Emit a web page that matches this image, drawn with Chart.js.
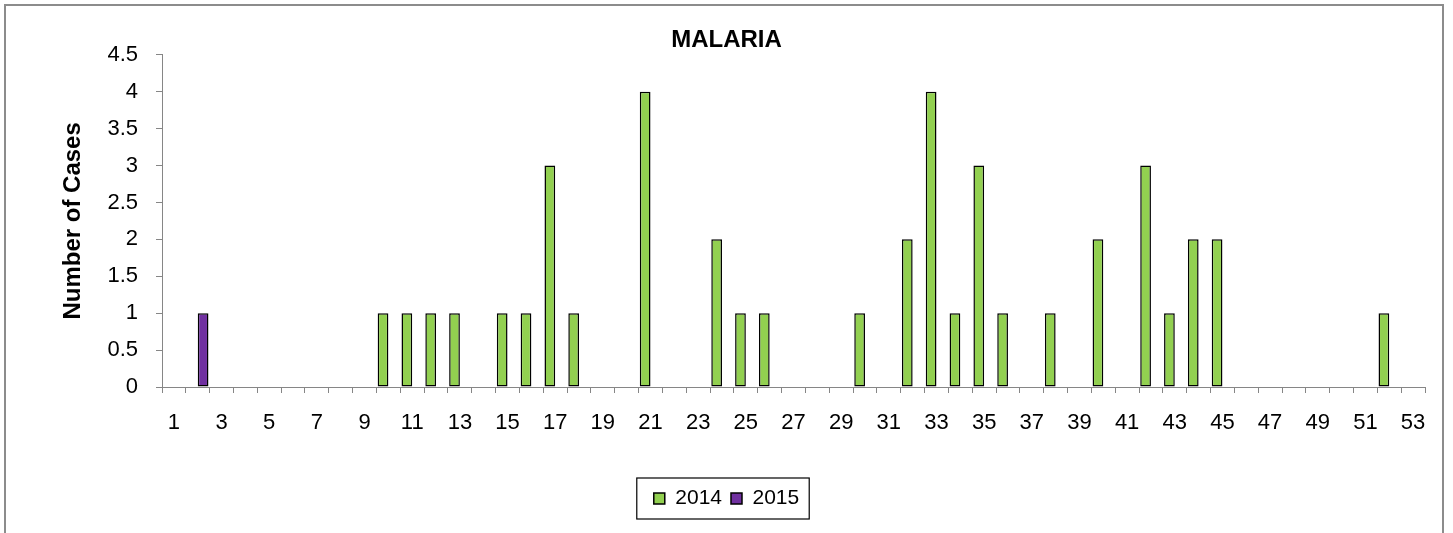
<!DOCTYPE html>
<html>
<head>
<meta charset="utf-8">
<script src="https://cdn.jsdelivr.net/npm/chart.js@4/dist/chart.umd.min.js"></script>
<style>
	html, body { margin: 0; padding: 0; background: #fff; }
	#wrap { width: 1453px; height: 533px; }
</style>
</head>
<body>
<div id="wrap"><canvas id="chart" width="1453" height="533"></canvas></div>
<script>
// epi weeks 1..53
const weeks = [
	'1', '2', '3', '4', '5', '6', '7', '8', '9', '10',
	'11', '12', '13', '14', '15', '16', '17', '18', '19', '20',
	'21', '22', '23', '24', '25', '26', '27', '28', '29', '30',
	'31', '32', '33', '34', '35', '36', '37', '38', '39', '40',
	'41', '42', '43', '44', '45', '46', '47', '48', '49', '50',
	'51', '52', '53'
];
const cases2014 = [
	0, 0, 0, 0, 0, 0, 0, 0, 0, 1,
	1, 1, 1, 0, 1, 1, 3, 1, 0, 0,
	4, 0, 0, 2, 1, 1, 0, 0, 0, 1,
	0, 2, 4, 1, 3, 1, 0, 1, 0, 2,
	0, 3, 1, 2, 2, 0, 0, 0, 0, 0,
	0, 1, 0
];
const cases2015 = [
	0, 1, 0, 0, 0, 0, 0, 0, 0, 0,
	0, 0, 0, 0, 0, 0, 0, 0, 0, 0,
	0, 0, 0, 0, 0, 0, 0, 0, 0, 0,
	0, 0, 0, 0, 0, 0, 0, 0, 0, 0,
	0, 0, 0, 0, 0, 0, 0, 0, 0, 0,
	0, 0, 0
];
const yTicks = [0, 0.5, 1, 1.5, 2, 2.5, 3, 3.5, 4, 4.5];

(function () {
	'use strict';

	const axisGrey = '#868686';
	Chart.defaults.font.family = "'Liberation Sans', Arial, sans-serif";
	Chart.defaults.color = '#000';

	// outer frame + legend border
	const framePlugin = {
		id: 'frame',
		beforeDraw(chart) {
			const ctx = chart.ctx;
			ctx.save();
			ctx.fillStyle = '#fff';
			ctx.fillRect(0, 0, chart.width, chart.height);
			ctx.strokeStyle = '#8c8c8c';
			ctx.lineWidth = 2;
			ctx.strokeRect(5, 5, chart.width - 15, chart.height + 40);
			ctx.restore();
		},
		afterDraw(chart) {
			const boxes = chart.legend.legendHitBoxes;
			if (!boxes || !boxes.length) return;
			const first = boxes[0], last = boxes[boxes.length - 1];
			const mid = first.top + first.height / 2;
			const ctx = chart.ctx;
			ctx.save();
			ctx.strokeStyle = '#000';
			ctx.lineWidth = 1.2;
			ctx.strokeRect(first.left - 17, mid - 20.5, (last.left + last.width) - first.left + 27, 41);
			ctx.restore();
		}
	};

	new Chart( document.getElementById( 'chart' ), {
		type: 'bar',
		plugins: [ framePlugin ],
		data: {
			labels: weeks,
			datasets: [
				{
					label: '2014',
					data: cases2014,
					backgroundColor: '#92D050',
					borderColor: '#000',
					borderWidth: 1.5,
					borderSkipped: false
				},
				{
					label: '2015',
					data: cases2015,
					backgroundColor: '#7030A0',
					borderColor: '#000',
					borderWidth: 1.5,
					borderSkipped: false
				}
			]
		},
		options: {
			responsive: false,
			animation: false,
			datasets: {
				bar: { categoryPercentage: 0.9, barPercentage: 1.0 }
			},
			layout: { padding: { left: 0, right: 0, top: 0, bottom: 14 } },
			plugins: {
				title: {
					display: true,
					text: 'MALARIA',
					font: { size: 24, weight: 'bold' },
					padding: { top: 26, bottom: 0 }
				},
				legend: {
					position: 'bottom',
					labels: {
						boxWidth: 11,
						boxHeight: 11,
						padding: 9,
						font: { size: 21 }
					}
				},
				tooltip: { enabled: false }
			},
			scales: {
				x: {
					grid: {
						drawOnChartArea: false,
						drawTicks: true,
						tickLength: 6,
						color: axisGrey,
						offset: true
					},
					border: { color: axisGrey, width: 1 },
					ticks: {
						autoSkip: false,
						maxRotation: 0,
						padding: 17,
						font: { size: 22 },
						callback: (v, i) => ( i % 2 === 0 ? weeks[i] : '' )
					},
					afterFit: (scale) => { scale.height = 92; }
				},
				y: {
					min: yTicks[0],
					max: yTicks[yTicks.length - 1],
					afterBuildTicks: (scale) => {
						scale.ticks = yTicks.map(v => ({ value: v }));
					},
					grid: {
						drawOnChartArea: false,
						drawTicks: true,
						tickLength: 6,
						color: axisGrey
					},
					border: { color: axisGrey, width: 1 },
					ticks: {
						padding: 18,
						font: { size: 22 },
						callback: (v) => String(v)
					},
					title: {
						display: true,
						text: 'Number of Cases',
						font: { size: 24, weight: 'bold' },
						padding: { top: 59, bottom: 0 }
					},
					afterFit: (scale) => { scale.width = 162; }
				},
				// empty right margin so the title and legend centre on the page
				pad: {
					type: 'linear',
					position: 'right',
					display: true,
					grid: { display: false },
					border: { display: false },
					ticks: { display: false },
					afterFit: (scale) => { scale.width = 28; }
				}
			}
		}
	} );
})();
</script>
</body>
</html>
